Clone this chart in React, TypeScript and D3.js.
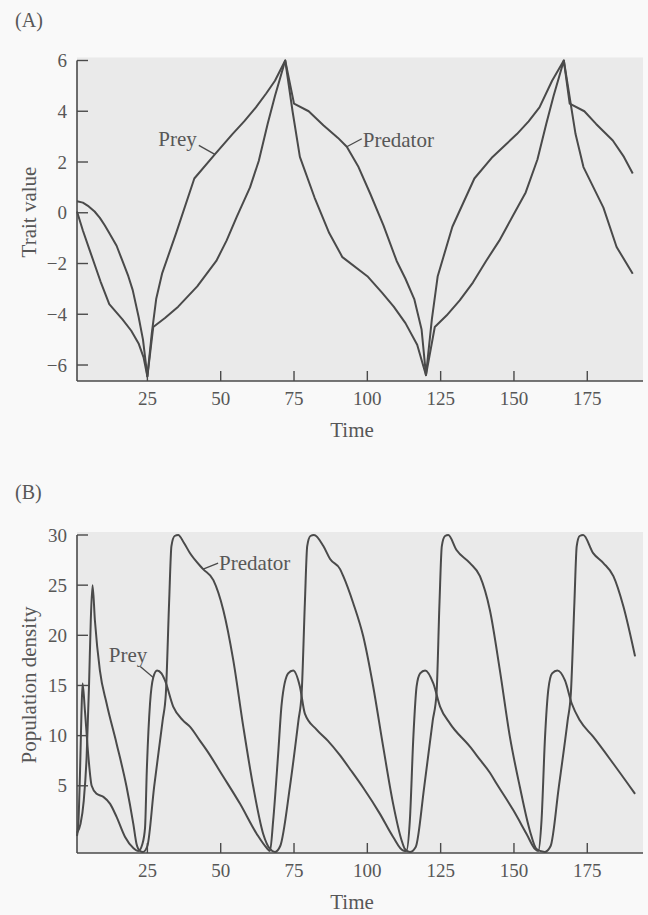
import React from 'react';
import * as d3 from 'd3';

// panel A: trait values [time, value]
const preyTrait: [number, number][] = [
  [1, 0.05], [3, -0.7], [5.4, -1.5], [9, -2.7], [12, -3.6], [16.5, -4.2], [19.5, -4.65],
  [22, -5.15], [23.7, -5.7], [25, -6.45], [26.5, -4.75], [28, -3.4], [30, -2.4], [34.8, -0.8],
  [41, 1.35], [48, 2.3], [54, 3.1], [58, 3.6], [62, 4.15], [65.5, 4.7], [68.5, 5.2], [72, 6.0],
  [74.5, 4.0], [77, 2.2], [82, 0.6], [87, -0.8], [91.5, -1.75], [100, -2.5], [105, -3.15],
  [109, -3.7], [113, -4.35], [117, -5.2], [120, -6.4], [122, -4.2], [124, -2.5], [129, -0.55],
  [136.5, 1.35], [142.7, 2.2], [151, 3.1], [155, 3.6], [158.7, 4.15], [163, 5.2], [167, 6.0],
  [171, 3.1], [173.7, 1.8], [180.5, 0.2], [185, -1.35], [190.5, -2.4],
];

const predatorTrait: [number, number][] = [
  [1, 0.45], [3, 0.4], [5, 0.25], [7, 0.05], [8.8, -0.2], [10.5, -0.5], [12, -0.8],
  [14.5, -1.3], [16.5, -1.9], [18.5, -2.5], [20, -3.05], [22, -4.1], [23.5, -5.0], [25, -6.45],
  [27, -4.5], [31, -4.15], [35.5, -3.7], [42, -2.9], [48.5, -1.9], [52, -1.1], [55.5, -0.15],
  [60, 1.0], [63, 2.05], [66, 3.5], [68.5, 4.6], [70.5, 5.4], [72, 6.0], [75, 4.3], [80, 4.0],
  [85, 3.45], [90, 2.95], [93, 2.6], [97, 1.8], [101, 0.75], [105.5, -0.5], [110, -1.9],
  [113, -2.6], [116, -3.4], [118.5, -4.6], [120, -6.4], [123, -4.5], [127, -4.05], [131.5, -3.45],
  [136, -2.75], [140.5, -1.9], [145, -1.1], [149.5, -0.15], [154, 0.8], [158, 2.1], [161, 3.5],
  [163.5, 4.6], [165.5, 5.4], [167, 6.0], [169, 4.3], [174, 4.0], [178, 3.5], [183.7, 2.85],
  [187.5, 2.2], [190.5, 1.55],
];

// panel B: population densities [time, value]
const preyDensity: [number, number][] = [
  [1, 0], [1.5, 1.5], [2, 6], [2.5, 12], [2.9, 15.2], [3.7, 12.5], [4.9, 7.85], [6, 5.0],
  [7.7, 4.2], [10, 3.9], [12.3, 3.2], [14.5, 1.9], [17.4, -0.1], [20.2, -1.2], [21.9, -1.5],
  [23.3, -0.8], [24.2, 0.8], [24.8, 6.5], [25.9, 13.2], [27, 15.8], [28.3, 16.5], [29.8, 16.2],
  [31, 15.5], [33.8, 12.9], [37.2, 11.5], [39.5, 10.9], [42.9, 9.5], [45.2, 8.55], [50.9, 5.9],
  [56.6, 3.2], [62.3, 0.2], [65.7, -1.2], [66.8, -1.5], [67.9, 1.55], [69.6, 8.2], [70.8, 13.2],
  [73, 16.2], [74.7, 16.5], [77, 14.9], [78.7, 12.2], [82.7, 10.6], [86.5, 9.5], [90.5, 8.1],
  [94.5, 6.5], [98.6, 4.8], [104.3, 2.2], [108.8, -0.1], [112.2, -1.45], [113.3, -1.5],
  [114.5, 1.55], [115.7, 9.9], [116.8, 14.9], [118, 16.2], [119.7, 16.5], [122.5, 15.2],
  [124.8, 12.9], [128.2, 11.2], [135, 8.9], [138.4, 7.6], [141.8, 6.3], [144.1, 5.2],
  [149.8, 2.55], [154.3, 0.2], [157.2, -1.3], [158.3, -1.5], [159.4, 1.55], [160.6, 9.9],
  [161.7, 14.55], [163, 16.2], [164.8, 16.5], [167.4, 15.5], [169.7, 13.2], [172.5, 11.5],
  [177, 9.9], [183.9, 7.2], [191.3, 4.2],
];

const predatorDensity: [number, number][] = [
  [1, 0.3], [2.2, 1.2], [3.3, 3.5], [4.3, 8], [5.1, 15], [5.7, 21.5], [6.3, 25], [7.1, 21.5],
  [8.8, 16.5], [11.1, 13.2], [14.5, 9.2], [17.9, 4.9], [20.2, 1.2], [21.3, -0.8], [22.5, -1.5],
  [23.5, -1.6], [25, -1.0], [27.3, 4.9], [30.2, 11.5], [31.3, 14.2], [32.4, 23.2], [33.2, 28.9],
  [34.3, 29.9], [35.5, 30], [37.5, 29.2], [39.5, 28.2], [44, 26.6], [47.5, 25.5], [50.9, 22.5],
  [54.3, 17.5], [57.7, 10.9], [61.1, 4.9], [64.5, 0.2], [66.8, -1.3], [68.5, -1.6], [70.3, -1.0],
  [73.6, 4.9], [76.5, 11.5], [77.6, 14.2], [78.7, 23.2], [79.5, 28.9], [80.6, 29.9], [81.8, 30],
  [85, 28.9], [87.3, 27.6], [90.7, 26.6], [91.8, 25.9], [95.2, 23.2], [98.6, 19.9], [102, 14.9],
  [105.4, 8.9], [108.8, 3.2], [111.7, -0.45], [112.8, -1.3], [114.5, -1.6], [116.5, -1.1],
  [119.4, 4.9], [122.3, 11.5], [123.6, 14.2], [124.6, 23.2], [125.4, 28.9], [126.5, 29.9],
  [127.6, 30], [130.4, 28.5], [135, 27.2], [138.4, 25.9], [141.8, 22.5], [145.2, 16.5],
  [148.6, 9.9], [152, 4.9], [155.4, 0.55], [157.7, -1.3], [160.5, -1.6], [162.5, -1.0],
  [165.3, 4.9], [168.3, 11.5], [169.4, 14.2], [170.6, 23.2], [171.4, 28.9], [172.4, 29.9],
  [173.6, 30], [177, 28.2], [180.5, 27.2], [183.9, 25.9], [187.3, 22.9], [191.3, 17.9],
];

const timeTicks = [25, 50, 75, 100, 125, 150, 175];
const traitTicks = [-6, -4, -2, 0, 2, 4, 6];
const densityTicks = [5, 10, 15, 20, 25, 30];

const FONT = '"Liberation Serif", "Times New Roman", serif';
const INK = '#4a4a4a';
const TEXT = '#575757';

function fmt(v: number) {
  return v < 0 ? '\u2212' + Math.abs(v) : String(v);
}

function Panel({ letter, top, yDomain, yRange, yTicks, series, yLabel, labelY, curve, labels }) {
  const x = d3.scaleLinear().domain([1, 194]).range([77, 643]);
  const y = d3.scaleLinear().domain(yDomain).range(yRange);
  const line = d3.line<[number, number]>()
    .x(d => x(d[0]))
    .y(d => y(d[1]))
    .curve(curve);
  const bottom = yRange[0];
  const yTop = y(yTicks[yTicks.length - 1]);

  return (
    <g>
      <text x={15} y={top} fontFamily={FONT} fontSize={20} fill={TEXT}>({letter})</text>
      <rect x={77} y={yTop - 3} width={566} height={bottom - yTop + 3} fill="#eaeaea" />
      {series.map((s, i) => (
        <path key={i} d={line(s)} fill="none" stroke={INK} strokeWidth={2} strokeLinejoin="round" />
      ))}
      <line x1={77} x2={77} y1={yTop} y2={bottom} stroke={INK} strokeWidth={1.6} />
      <line x1={77} x2={643} y1={bottom} y2={bottom} stroke={INK} strokeWidth={1.6} />
      {yTicks.map(t => (
        <g key={t}>
          <line x1={77} x2={88} y1={y(t)} y2={y(t)} stroke={INK} strokeWidth={1.4} />
          <text x={67} y={y(t)} dy="0.35em" textAnchor="end" fontFamily={FONT} fontSize={19} fill={TEXT}>{fmt(t)}</text>
        </g>
      ))}
      {timeTicks.map(t => (
        <g key={t}>
          <line x1={x(t)} x2={x(t)} y1={bottom} y2={bottom - 10} stroke={INK} strokeWidth={1.4} />
          <text x={x(t)} y={bottom + 24} textAnchor="middle" fontFamily={FONT} fontSize={19} fill={TEXT}>{t}</text>
        </g>
      ))}
      <text x={352} y={bottom + 56} textAnchor="middle" fontFamily={FONT} fontSize={21} fill={TEXT}>Time</text>
      <text transform={`translate(36,${labelY}) rotate(-90)`} textAnchor="middle" fontFamily={FONT} fontSize={21} fill={TEXT}>{yLabel}</text>
      {labels.map((l, i) => {
        const px = x(l.at[0]);
        const py = y(l.at[1]);
        return (
          <g key={i}>
            <path d={`M${px},${py} L${px + l.lead[0]},${py + l.lead[1]}`} fill="none" stroke={INK} strokeWidth={1.3} />
            <text x={px + l.text[0]} y={py + l.text[1]} textAnchor={l.anchor} fontFamily={FONT} fontSize={21} fill={TEXT}>{l.name}</text>
          </g>
        );
      })}
    </g>
  );
}

export default function App() {
  return (
    <div style={{ position: 'absolute', left: 0, top: 0 }}>
      <svg width={648} height={915} style={{ display: 'block', background: '#f9f9f9' }}>
        <Panel
          letter="A"
          top={27}
          yDomain={[-6.63, 6]}
          yRange={[381, 60.5]}
          yTicks={traitTicks}
          series={[preyTrait, predatorTrait]}
          yLabel="Trait value"
          labelY={212}
          curve={d3.curveLinear}
          labels={[
            { name: 'Prey', at: [48, 2.3], lead: [-16, -9], text: [-18, -8], anchor: 'end' },
            { name: 'Predator', at: [93, 2.6], lead: [15, -8], text: [16, 0], anchor: 'start' },
          ]}
        />
        <Panel
          letter="B"
          top={499}
          yDomain={[-1.7, 30]}
          yRange={[853, 535]}
          yTicks={densityTicks}
          series={[preyDensity, predatorDensity]}
          yLabel="Population density"
          labelY={685}
          curve={d3.curveMonotoneX}
          labels={[
            { name: 'Prey', at: [27, 15.8], lead: [-13, -11], text: [-6, -15], anchor: 'end' },
            { name: 'Predator', at: [44, 26.6], lead: [15, -6], text: [16, 1], anchor: 'start' },
          ]}
        />
      </svg>
    </div>
  );
}
